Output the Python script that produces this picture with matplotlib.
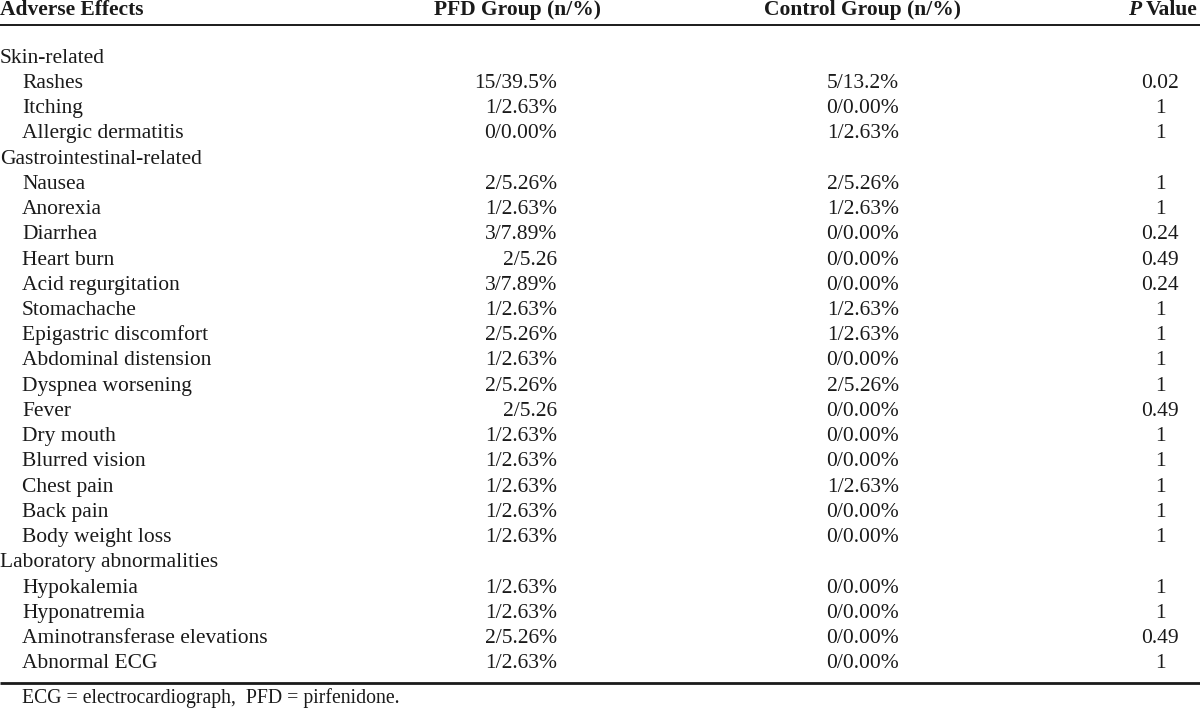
import matplotlib.pyplot as plt

plt.rcParams['font.family'] = ['Liberation Serif', 'DejaVu Serif']

header = ['Adverse Effects', 'PFD Group (n/%)', 'Control Group (n/%)', 'Value']

effects = [
    'Skin-related', 'Rashes', 'Itching', 'Allergic dermatitis',
    'Gastrointestinal-related', 'Nausea', 'Anorexia', 'Diarrhea', 'Heart burn',
    'Acid regurgitation', 'Stomachache', 'Epigastric discomfort',
    'Abdominal distension', 'Dyspnea worsening', 'Fever', 'Dry mouth',
    'Blurred vision', 'Chest pain', 'Back pain', 'Body weight loss',
    'Laboratory abnormalities', 'Hypokalemia', 'Hyponatremia',
    'Aminotransferase elevations', 'Abnormal ECG',
]
is_group = [e in ('Skin-related', 'Gastrointestinal-related', 'Laboratory abnormalities')
            for e in effects]
pfd = ['', '15/39.5%', '1/2.63%', '0/0.00%',
       '', '2/5.26%', '1/2.63%', '3/7.89%', '2/5.26',
       '3/7.89%', '1/2.63%', '2/5.26%',
       '1/2.63%', '2/5.26%', '2/5.26', '1/2.63%',
       '1/2.63%', '1/2.63%', '1/2.63%', '1/2.63%',
       '', '1/2.63%', '1/2.63%',
       '2/5.26%', '1/2.63%']
control = ['', '5/13.2%', '0/0.00%', '1/2.63%',
           '', '2/5.26%', '1/2.63%', '0/0.00%', '0/0.00%',
           '0/0.00%', '1/2.63%', '1/2.63%',
           '0/0.00%', '2/5.26%', '0/0.00%', '0/0.00%',
           '0/0.00%', '1/2.63%', '0/0.00%', '0/0.00%',
           '', '0/0.00%', '0/0.00%',
           '0/0.00%', '0/0.00%']
p_value = ['', '0.02', '1', '1',
           '', '1', '1', '0.24', '0.49',
           '0.24', '1', '1',
           '1', '1', '0.49', '1',
           '1', '1', '1', '1',
           '', '1', '1',
           '0.49', '1']
footnote = 'ECG = electrocardiograph,  PFD = pirfenidone.'

fs = 15.5
ink = '#1a1a1a'

fig = plt.figure(figsize=(12, 7.17), dpi=100)
ax = fig.add_axes([0, 0, 1, 1])
ax.set_xlim(0, 1200)
ax.set_ylim(717, 0)
ax.axis('off')

# header row
ax.text(0, 15, header[0], fontsize=fs, fontweight='bold', color=ink, va='baseline')
ax.text(517, 15, header[1], fontsize=fs, fontweight='bold', color=ink, va='baseline', ha='center')
ax.text(863, 15, header[2], fontsize=fs, fontweight='bold', color=ink, va='baseline', ha='center')
val = ax.text(1198, 15, header[3], fontsize=fs, fontweight='bold', color=ink, va='baseline', ha='right')
fig.canvas.draw()
bb = val.get_window_extent(fig.canvas.get_renderer())
x0 = ax.transData.inverted().transform((bb.x0, bb.y0))[0]
ax.text(x0 - 5, 15, 'P', fontsize=fs, fontweight='bold', fontstyle='italic', color=ink,
        va='baseline', ha='right')

ax.plot([0, 1200], [25, 25], color=ink, lw=1.4, solid_capstyle='butt')

y0, step = 62.7, 25.23
for i, name in enumerate(effects):
    y = y0 + i * step
    ax.text(0 if is_group[i] else 22, y, name, fontsize=fs, color=ink, va='baseline')
    ax.text(557, y, pfd[i], fontsize=fs, color=ink, va='baseline', ha='right')
    ax.text(899, y, control[i], fontsize=fs, color=ink, va='baseline', ha='right')
    ax.text(1160, y, p_value[i], fontsize=fs, color=ink, va='baseline', ha='center')

ax.plot([0, 1200], [683, 683], color=ink, lw=2.0, solid_capstyle='butt')
ax.text(22, 703, footnote, fontsize=14.2, color=ink, va='baseline')

fig.savefig('out.png', dpi=100)
